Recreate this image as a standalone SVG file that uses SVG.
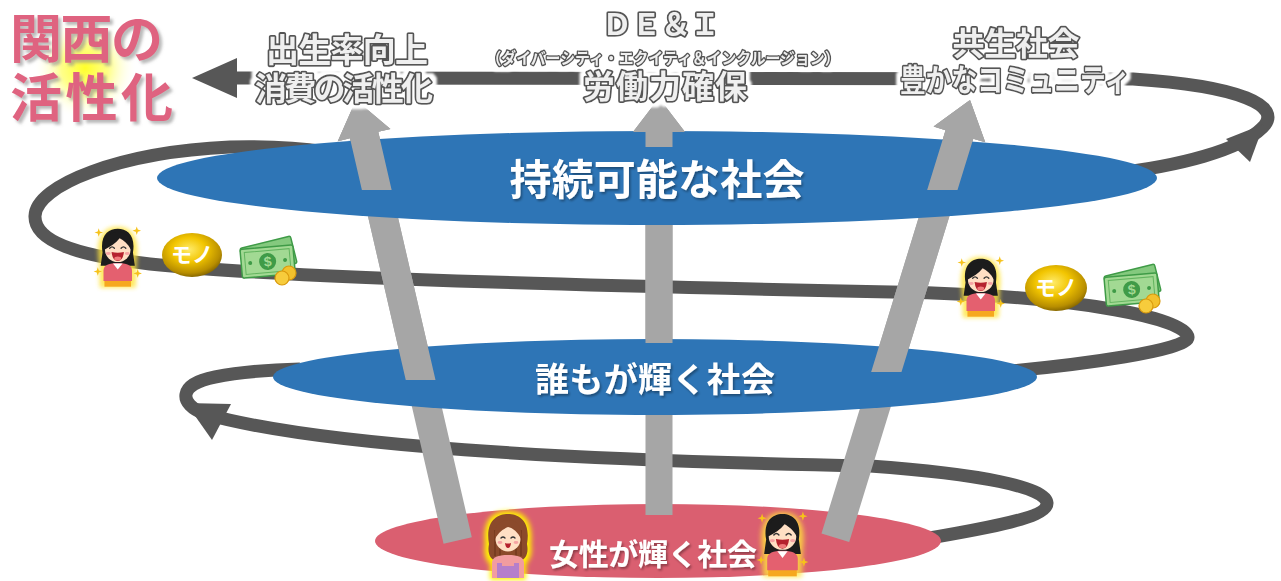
<svg xmlns="http://www.w3.org/2000/svg" xmlns:xlink="http://www.w3.org/1999/xlink" width="1281" height="581" viewBox="0 0 1281 581">
  <style>
    .spiral { fill: none; stroke: #575757; stroke-width: 13; stroke-linecap: butt; }
    .head { fill: #575757; }
    .pillar { fill: #A6A6A6; }
    .blue { fill: #2E75B6; }
    .pink { fill: #DA5F70; }
    .jp { font-family: "Noto Sans CJK JP", "Noto Sans", sans-serif; font-weight: 700; }
    .ell-text { fill: #FFFFFF; text-anchor: middle; filter: url(#txtShadow); }
    .label { fill: #EFEFEF; stroke: #555555; stroke-width: 3.6; stroke-linejoin: round; paint-order: stroke; text-anchor: middle; filter: url(#halo); }
    .title { fill: #DF6480; filter: url(#titleShadow); }
    .coin-text { fill: #FFFFFF; font-size: 21px; text-anchor: middle; }
  </style>
  <defs>
    <filter id="txtShadow" x="-10%" y="-30%" width="120%" height="160%">
      <feDropShadow dx="1.5" dy="2" stdDeviation="1.2" flood-color="#000" flood-opacity="0.35"/>
    </filter>
    <filter id="titleShadow" x="-10%" y="-20%" width="130%" height="150%">
      <feDropShadow dx="3" dy="3" stdDeviation="1.5" flood-color="#8C8C8C" flood-opacity="0.6"/>
    </filter>
    <!-- white glow around outlined captions, so the track breaks behind them -->
    <filter id="halo" x="-10%" y="-40%" width="120%" height="180%">
      <feMorphology in="SourceAlpha" operator="dilate" radius="4" result="grown"/>
      <feGaussianBlur in="grown" stdDeviation="1.3" result="soft"/>
      <feFlood flood-color="#FFFFFF"/>
      <feComposite in2="soft" operator="in" result="glow"/>
      <feMerge>
        <feMergeNode in="glow"/>
        <feMergeNode in="SourceGraphic"/>
      </feMerge>
    </filter>
    <filter id="soft" x="-30%" y="-30%" width="160%" height="160%">
      <feGaussianBlur stdDeviation="2.5"/>
    </filter>
    <radialGradient id="sun" cx="85" cy="68" r="52" gradientUnits="userSpaceOnUse">
      <stop offset="0" stop-color="#FFFF2A" stop-opacity="1"/>
      <stop offset="0.45" stop-color="#FFFF60" stop-opacity="0.75"/>
      <stop offset="1" stop-color="#FFFFFF" stop-opacity="0"/>
    </radialGradient>
    <radialGradient id="gold" cx="0.45" cy="0.38" r="0.62">
      <stop offset="0" stop-color="#FFEB6A"/>
      <stop offset="0.45" stop-color="#F2C500"/>
      <stop offset="0.85" stop-color="#B88E00"/>
      <stop offset="1" stop-color="#8A6A00"/>
    </radialGradient>

    <!-- arrow pointing up, tip at origin -->
    <polygon id="up452" points="0,0 27,36 14.5,36 14.5,452 -14.5,452 -14.5,36 -27,36"/>
    <polygon id="up458" points="0,0 27,36 14.5,36 14.5,458 -14.5,458 -14.5,36 -27,36"/>
    <polygon id="up417" points="0,0 26,34 13.5,34 13.5,417 -13.5,417 -13.5,34 -26,34"/>

    <g id="pillars">
      <use href="#up452" transform="translate(356,100) rotate(-13)"/>
      <use href="#up417" transform="translate(659,98)"/>
      <use href="#up458" transform="translate(970,100) rotate(17.1)"/>
    </g>

    <clipPath id="clipMid">
      <polygon points="0,0 1281,0 1281,372 700,372 700,343 600,343 600,380 0,380"/>
    </clipPath>
    <clipPath id="clipTop">
      <polygon points="0,0 1281,0 1281,190 700,190 700,147 600,147 600,190 0,190"/>
    </clipPath>

    <path id="sparkle" d="M0 -4.5 L1.1 -1.1 L4.5 0 L1.1 1.1 L0 4.5 L-1.1 1.1 L-4.5 0 L-1.1 -1.1 Z" fill="#F6C21A"/>

    <!-- smiling woman, black hair, pink top -->
    <g id="girl">
      <path d="M25 3 C44 3 48 20 45 40 L44 67 L6 67 L5 40 C2 20 6 3 25 3 Z" fill="#FFE43A" opacity="0.8" filter="url(#soft)"/>
      <path d="M9 30 C6 12 15 5 25 5 C35 5 44 12 41 30 L43 44 L7 44 Z" fill="#1C1C1C"/>
      <rect x="11" y="58" width="28" height="8" fill="#F6A81E"/>
      <path d="M10 60 L10 49 C10 43 16 41 25 41 C34 41 40 43 40 49 L40 60 Z" fill="#E4606F"/>
      <path d="M20 41.5 L25 48 L30 41.5 Z" fill="#FFFFFF"/>
      <ellipse cx="25" cy="27" rx="13.5" ry="13" fill="#FFDFC4"/>
      <path d="M11 27 C9 12 19 8 26 9 C34 9 42 15 39 27 C36 21 31 17 27 15 C23 20 17 24 11 27 Z" fill="#1C1C1C"/>
      <path d="M16.5 25.5 Q19 22.5 21.5 25.5 M28.5 25.5 Q31 22.5 33.5 25.5" stroke="#333" stroke-width="1.4" fill="none" stroke-linecap="round"/>
      <path d="M18.5 29.5 Q25 31 31.5 29.5 Q30.5 39 25 39 Q19.5 39 18.5 29.5 Z" fill="#B5222E"/>
      <ellipse cx="25" cy="36.3" rx="3.6" ry="2" fill="#F07A7A"/>
      <ellipse cx="15" cy="31" rx="2.6" ry="1.5" fill="#F6A3A3"/>
      <ellipse cx="35" cy="31" rx="2.6" ry="1.5" fill="#F6A3A3"/>
      <use href="#sparkle" x="5" y="9"/>
      <use href="#sparkle" x="45" y="7"/>
      <use href="#sparkle" x="4" y="50"/>
      <use href="#sparkle" x="46" y="52"/>
    </g>

    <!-- woman with brown hair and purple apron -->
    <g id="mom">
      <path d="M25 1 C44 1 50 14 48 34 C50 46 45 52 43 54 L43 70 L7 70 L7 54 C4 52 0 46 2 34 C0 14 6 1 25 1 Z" fill="#FFF200" filter="url(#soft)"/>
      <path d="M6 34 C2 11 14 4 25 4 C36 4 48 11 44 34 C46 44 42 50 38 50 L12 50 C8 50 4 44 6 34 Z" fill="#8B4A2B"/>
      <path d="M12 20 L12 46 M17 14 L17 48 M33 14 L33 48 M38 20 L38 46" stroke="#6E3519" stroke-width="1.2"/>
      <path d="M9 68 L9 53 C9 47 15 45 25 45 C35 45 41 47 41 53 L41 68 Z" fill="#F29CA0"/>
      <path d="M14 68 L14 53 L19 53 L19 56 L31 56 L31 53 L36 53 L36 68 Z" fill="#B57FCB"/>
      <ellipse cx="25" cy="29" rx="12.5" ry="12.5" fill="#FFDFC4"/>
      <path d="M12 29 C10 14 19 10 25 10 C32 10 40 14 38 29 C35 22 30 18 25 17 C20 19 15 23 12 29 Z" fill="#8B4A2B"/>
      <path d="M18 28 Q20 26 22 28 M28 28 Q30 26 32 28" stroke="#333" stroke-width="1.3" fill="none" stroke-linecap="round"/>
      <path d="M22 33 Q25 34 28 33 Q27.5 38 25 38 Q22.5 38 22 33 Z" fill="#B5222E"/>
      <ellipse cx="17" cy="32.5" rx="2.4" ry="1.4" fill="#F6A3A3"/>
      <ellipse cx="33" cy="32.5" rx="2.4" ry="1.4" fill="#F6A3A3"/>
    </g>

    <!-- bank notes with coins -->
    <g id="cash">
      <g transform="rotate(-14 30 22)">
        <rect x="5" y="6" width="52" height="28" rx="2" fill="#84C97E" stroke="#3F9B47" stroke-width="1.5"/>
      </g>
      <g transform="rotate(-5 30 24)">
        <rect x="3" y="11" width="53" height="29" rx="2" fill="#A2D993" stroke="#3F9B47" stroke-width="1.5"/>
        <rect x="7" y="14.5" width="45" height="22" fill="none" stroke="#63B45F" stroke-width="1"/>
        <circle cx="29.5" cy="25.5" r="8.5" fill="#3F9B47"/>
        <text x="29.5" y="30.5" font-family="Liberation Sans, Arial, sans-serif" font-weight="700" font-size="14" fill="#A2D993" text-anchor="middle">$</text>
        <circle cx="12" cy="25.5" r="2" fill="#3F9B47"/>
        <circle cx="47" cy="25.5" r="2" fill="#3F9B47"/>
      </g>
      <circle cx="51" cy="37" r="7" fill="#F3C12C" stroke="#D99A0E" stroke-width="1.2"/>
      <circle cx="44" cy="42" r="7" fill="#F7CC3C" stroke="#D99A0E" stroke-width="1.2"/>
    </g>
  </defs>

  <rect width="1281" height="581" fill="#FFFFFF"/>

  <!-- spiral track and its arrowheads -->
  <g id="connectors">
    <path class="spiral" d="M900 543 C980 530 1048 518 1047 503 C1046 487 980 474 870 466 C560 460 320 446 205 414 C178 404 178 384 215 377 C240 372 262 370 300 369"/>
    <polygon class="head" points="186,403 231,404 212,440"/>
    <path class="spiral" d="M1000 372 C1080 365 1190 350 1188 337 C1186 318 1080 298 933 293 C700 288 300 280 150 264 C80 256 34 242 35 216 C36 185 120 152 230 147 C270 146 300 148 325 152"/>
    <path class="spiral" d="M1110 174 C1180 166 1240 150 1262 128 C1285 106 1240 86 1133 79 L236 78"/>
    <polygon class="head" points="1264,124 1226,139 1250,162"/>
    <polygon class="head" points="192,78 237,58 237,98"/>
  </g>

  <!-- bottom tier -->
  <g id="node-women">
    <ellipse class="pink" cx="658" cy="541" rx="283" ry="37"/>
  </g>

  <g id="pillars-low" class="pillar">
    <use href="#pillars"/>
  </g>

  <!-- middle tier -->
  <g id="node-everyone">
    <ellipse class="blue" cx="655" cy="377" rx="382" ry="38"/>
  </g>

  <g id="pillars-mid" class="pillar" clip-path="url(#clipMid)">
    <use href="#pillars"/>
  </g>

  <!-- top tier -->
  <g id="node-sustainable">
    <ellipse class="blue" cx="657" cy="178" rx="500" ry="47"/>
  </g>

  <g id="pillars-top" class="pillar" clip-path="url(#clipTop)">
    <use href="#pillars"/>
  </g>

  <!-- tier captions -->
  <g id="tier-labels" class="jp">
    <text class="ell-text" x="657" y="195" font-size="42" textLength="295">持続可能な社会</text>
    <text class="ell-text" x="655" y="392" font-size="34" textLength="240">誰もが輝く社会</text>
    <text class="ell-text" x="653" y="565" font-size="30" textLength="208">女性が輝く社会</text>
  </g>

  <!-- icons riding on the spiral -->
  <g id="icons-left">
    <use href="#girl" transform="translate(94,224) scale(0.95)"/>
    <ellipse cx="192" cy="255" rx="30" ry="22" fill="url(#gold)"/>
    <text class="jp coin-text" x="192" y="262">モノ</text>
    <use href="#cash" transform="translate(238,236)"/>
  </g>
  <g id="icons-right">
    <use href="#girl" transform="translate(957,254) scale(0.95)"/>
    <ellipse cx="1056" cy="288" rx="31" ry="23" fill="url(#gold)"/>
    <text class="jp coin-text" x="1056" y="295">モノ</text>
    <use href="#cash" transform="translate(1102,264)"/>
  </g>
  <g id="icons-bottom">
    <use href="#mom" transform="translate(483,510)"/>
    <use href="#girl" transform="translate(757,509) scale(1.02)"/>
  </g>

  <!-- outcome labels along the top track -->
  <g id="node-birthrate" class="jp">
    <text class="label"><tspan x="347" y="62" font-size="33" textLength="162">出生率向上</tspan><tspan x="344" y="100" font-size="32" textLength="178">消費の活性化</tspan></text>
  </g>
  <g id="node-dei" class="jp">
    <text class="label"><tspan x="661" y="35" font-size="30" textLength="118">ＤＥ＆Ｉ</tspan><tspan x="663" y="64" font-size="16" textLength="353" lengthAdjust="spacingAndGlyphs" style="stroke-width:3">（ダイバーシティ・エクイティ＆インクルージョン）</tspan><tspan x="665" y="98" font-size="32" textLength="164">労働力確保</tspan></text>
  </g>
  <g id="node-community" class="jp">
    <text class="label"><tspan x="1016" y="55" font-size="32" textLength="127">共生社会</tspan><tspan x="1015" y="91" font-size="31" textLength="230" lengthAdjust="spacingAndGlyphs">豊かなコミュニティ</tspan></text>
  </g>

  <!-- goal -->
  <g id="node-kansai">
    <circle cx="85" cy="68" r="52" fill="url(#sun)"/>
    <text class="jp title" font-size="52"><tspan x="10" y="58" textLength="153">関西の</tspan><tspan x="10" y="117" textLength="163">活性化</tspan></text>
  </g>
</svg>
